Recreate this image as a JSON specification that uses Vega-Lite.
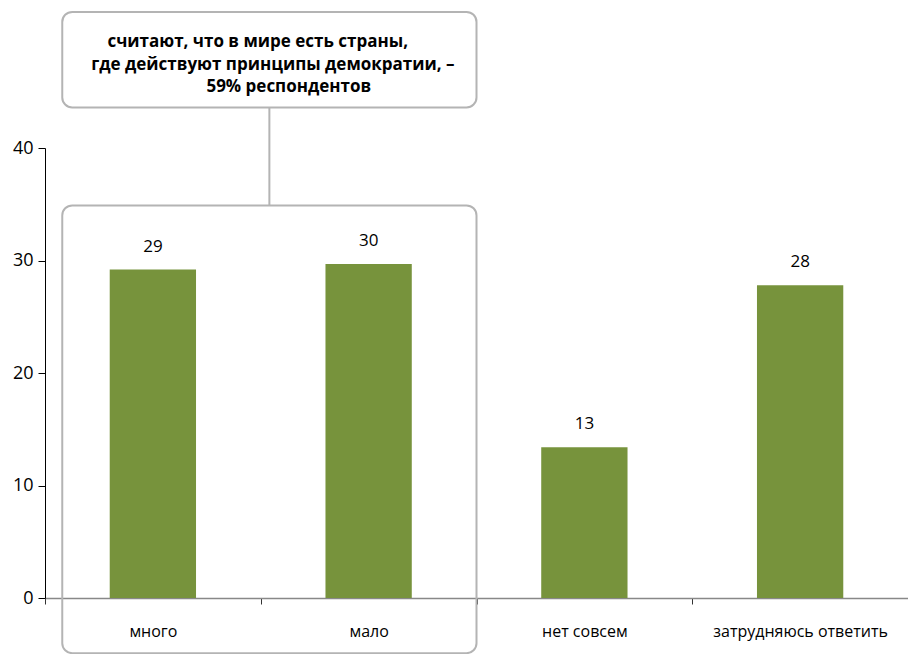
{
  "$schema": "https://vega.github.io/schema/vega-lite/v6.json",
  "autosize": {"type": "none"},
  "padding": {"left": 45, "top": 148, "right": 0, "bottom": 56},
  "width": 863,
  "height": 450,
  "config": {"view": {"stroke": null}, "font": "Open Sans"},
  "datasets": {
    "bars": [
      {"cat": "много", "value": 29.2, "label": "29"},
      {"cat": "мало", "value": 29.7, "label": "30"},
      {"cat": "нет совсем", "value": 13.4, "label": "13"},
      {"cat": "затрудняюсь ответить", "value": 27.8, "label": "28"}
    ],
    "boxes": [
      {"x": 0.08, "x2": 2.0, "y": 52.1, "y2": 43.6},
      {"x": 0.08, "x2": 2.0, "y": 34.9, "y2": -4.9}
    ],
    "connector": [{"x": 1.04, "y": 43.6, "y2": 34.9}],
    "note": [
      {"x": 0.986, "y": 49.42, "t": "считают, что в мире есть страны,"},
      {"x": 1.056, "y": 47.42, "t": "где действуют принципы демократии, –"},
      {"x": 1.13, "y": 45.42, "t": "59% респондентов"}
    ]
  },
  "layer": [
    {
      "layer": [
        {
          "data": {"name": "boxes"},
          "mark": {"type": "rect", "filled": false, "stroke": "#b4b4b4", "strokeWidth": 2, "cornerRadius": 10},
          "encoding": {
            "x": {"field": "x", "type": "quantitative", "scale": {"domain": [0, 4], "nice": false, "zero": false}, "axis": null},
            "x2": {"field": "x2"},
            "y": {"field": "y", "type": "quantitative", "scale": {"domain": [0, 40], "nice": false}},
            "y2": {"field": "y2"}
          }
        },
        {
          "data": {"name": "connector"},
          "mark": {"type": "rule", "stroke": "#b4b4b4", "strokeWidth": 2},
          "encoding": {
            "x": {"field": "x", "type": "quantitative", "scale": {"domain": [0, 4], "nice": false, "zero": false}, "axis": null},
            "y": {"field": "y", "type": "quantitative"},
            "y2": {"field": "y2"}
          }
        },
        {
          "data": {"name": "note"},
          "mark": {"type": "text", "fontSize": 17, "fontWeight": "bold", "align": "center", "baseline": "middle", "color": "#000"},
          "encoding": {
            "x": {"field": "x", "type": "quantitative", "scale": {"domain": [0, 4], "nice": false, "zero": false}, "axis": null},
            "y": {"field": "y", "type": "quantitative"},
            "text": {"field": "t"}
          }
        }
      ]
    },
    {
      "data": {"name": "bars"},
      "layer": [
        {
          "mark": {"type": "bar", "color": "#77933c", "width": {"band": 0.4}},
          "encoding": {
            "x": {
              "field": "cat", "type": "nominal", "sort": null,
              "scale": {"paddingInner": 0, "paddingOuter": 0},
              "axis": {
                "title": null, "labelAngle": 0, "labelFontSize": 16, "labelColor": "#000",
                "labelPadding": 19, "domainColor": "#888", "domainWidth": 1.5,
                "tickBand": "extent", "tickColor": "#333", "tickSize": 6
              }
            },
            "y": {
              "field": "value", "type": "quantitative",
              "scale": {"domain": [0, 40], "nice": false},
              "axis": {
                "title": null, "values": [0, 10, 20, 30, 40], "grid": false,
                "labelFontSize": 18, "labelColor": "#000", "labelPadding": 5,
                "tickSize": 7, "tickColor": "#000", "domainColor": "#000"
              }
            }
          }
        },
        {
          "mark": {"type": "text", "fontSize": 17, "baseline": "bottom", "dy": -14, "color": "#000"},
          "encoding": {
            "x": {"field": "cat", "type": "nominal", "sort": null},
            "y": {"field": "value", "type": "quantitative"},
            "text": {"field": "label"}
          }
        }
      ]
    }
  ],
  "resolve": {"scale": {"x": "independent"}}
}
